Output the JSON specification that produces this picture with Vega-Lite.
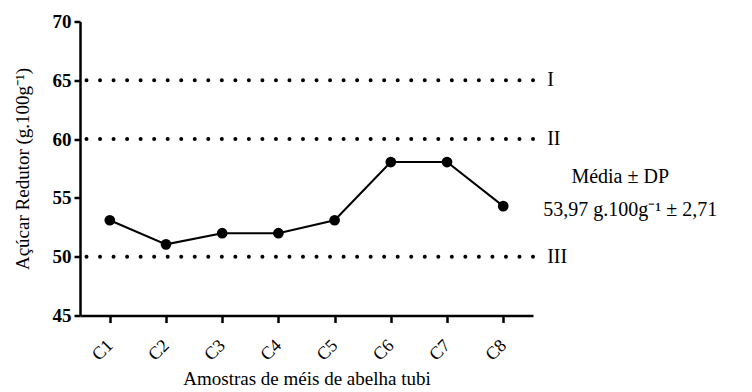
{
  "$schema": "https://vega.github.io/schema/vega-lite/v6.json",
  "width": 453,
  "height": 294,
  "autosize": {"type": "none"},
  "padding": {"left": 80, "top": 21.5, "right": 219, "bottom": 76.5},
  "background": "white",
  "config": {
    "view": {"stroke": null},
    "font": "Liberation Serif",
    "axis": {"grid": false, "domainColor": "black", "tickColor": "black", "labelColor": "black", "titleColor": "black", "labelFont": "Liberation Serif", "titleFont": "Liberation Serif"}
  },
  "datasets": {
    "samples": [
      {"amostra": "C1", "valor": 53.1},
      {"amostra": "C2", "valor": 51.05},
      {"amostra": "C3", "valor": 52.0},
      {"amostra": "C4", "valor": 52.0},
      {"amostra": "C5", "valor": 53.1},
      {"amostra": "C6", "valor": 58.05},
      {"amostra": "C7", "valor": 58.05},
      {"amostra": "C8", "valor": 54.3}
    ],
    "limites": [
      {"classe": "I", "limite": 65},
      {"classe": "II", "limite": 60},
      {"classe": "III", "limite": 50}
    ],
    "notas": [
      {"texto": "Média ± DP", "pos": 56.8, "deslocamento": 117},
      {"texto": "53,97 g.100g⁻¹ ± 2,71", "pos": 54.0, "deslocamento": 127}
    ]
  },
  "layer": [
    {
      "data": {"name": "limites"},
      "mark": {"type": "rule", "strokeDash": [0, 13.53], "strokeCap": "round", "strokeWidth": 4, "color": "black"},
      "encoding": {
        "y": {"field": "limite", "type": "quantitative", "scale": {"domain": [45, 70]}}
      }
    },
    {
      "data": {"name": "limites"},
      "mark": {"type": "text", "align": "left", "baseline": "middle", "dx": 44, "fontSize": 20, "font": "Liberation Serif", "color": "black"},
      "encoding": {
        "x": {"datum": "C8", "type": "ordinal"},
        "y": {"field": "limite", "type": "quantitative"},
        "text": {"field": "classe"}
      }
    },
    {
      "data": {"name": "notas"},
      "transform": [{"filter": "datum.deslocamento < 120"}],
      "mark": {"type": "text", "align": "center", "baseline": "middle", "dx": 117, "fontSize": 20, "font": "Liberation Serif", "color": "black"},
      "encoding": {
        "x": {"datum": "C8", "type": "ordinal"},
        "y": {"field": "pos", "type": "quantitative"},
        "text": {"field": "texto"}
      }
    },
    {
      "data": {"name": "notas"},
      "transform": [{"filter": "datum.deslocamento > 120"}],
      "mark": {"type": "text", "align": "center", "baseline": "middle", "dx": 127, "fontSize": 20, "font": "Liberation Serif", "color": "black"},
      "encoding": {
        "x": {"datum": "C8", "type": "ordinal"},
        "y": {"field": "pos", "type": "quantitative"},
        "text": {"field": "texto"}
      }
    },
    {
      "data": {"name": "samples"},
      "mark": {"type": "line", "color": "black", "strokeWidth": 2, "point": {"filled": true, "color": "black", "size": 115, "opacity": 1}},
      "encoding": {
        "x": {
          "field": "amostra", "type": "ordinal",
          "scale": {"type": "point", "padding": 0.53},
          "axis": {"title": "Amostras de méis de abelha tubi", "titleFontSize": 19, "titleFontWeight": "normal", "titlePadding": 6, "labelAngle": -45, "labelFontSize": 18, "labelPadding": 20, "domainWidth": 2.5, "tickWidth": 2.5, "tickSize": 7, "zindex": 1}
        },
        "y": {
          "field": "valor", "type": "quantitative",
          "scale": {"domain": [45, 70], "nice": false, "zero": false},
          "axis": {"title": "Açúcar Redutor (g.100g⁻¹)", "titleFontSize": 19, "titleFontWeight": "normal", "titlePadding": 20, "values": [45, 50, 55, 60, 65, 70], "labelFontSize": 19, "labelFontWeight": "bold", "labelPadding": 3, "domainWidth": 2.5, "tickWidth": 2.5, "tickSize": 6, "zindex": 1}
        }
      }
    }
  ]
}
